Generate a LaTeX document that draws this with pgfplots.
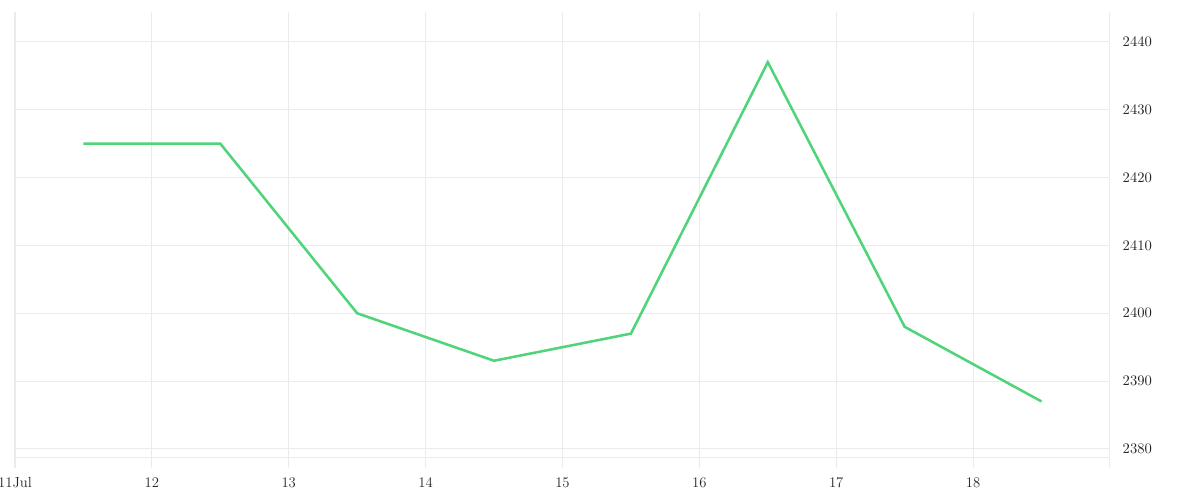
\documentclass[border=0pt]{standalone}
\usepackage{pgfplots}
\pgfplotsset{compat=1.18}
\definecolor{gridc}{HTML}{EBEBEB}
\definecolor{linec}{HTML}{4FD47A}
\begin{document}
\begin{tikzpicture}[x=1pt,y=1pt]
\useasboundingbox (0,0) rectangle (900,375);
\begin{axis}[
  at={(11.25pt,31.5pt)}, anchor=south west,
  scale only axis, width=821.25pt, height=334.5pt,
  xmin=11, xmax=19, ymin=2378.67, ymax=2444.4,
  axis x line*=bottom, axis y line*=right,
  axis line style={draw=gridc, line width=0.75pt, -},
  xtick={11,...,19},
  xticklabels={11Jul,12,13,14,15,16,17,18,{}},
  ytick={2380,2390,...,2440},
  yticklabel style={/pgf/number format/1000 sep={}},
  grid=major, major grid style={draw=gridc, line width=0.75pt},
  x tick style={draw=gridc, line width=0.75pt},
  y tick style={draw=none},
  xtick align=outside, major tick length=7.5pt,
  tick label style={font=\fontsize{11}{12}\selectfont, text=black!85},
  xticklabel style={yshift=-3.5pt},
  yticklabel style={anchor=west, xshift=6pt},
  clip=false,
]
\addplot[color=linec, line width=1.9pt, line join=miter] coordinates {
(11.5,2425) (12.5,2425) (13.5,2400) (14.5,2393) (15.5,2397) (16.5,2437) (17.5,2398) (18.5,2387)
};
\end{axis}
\end{tikzpicture}
\end{document}
